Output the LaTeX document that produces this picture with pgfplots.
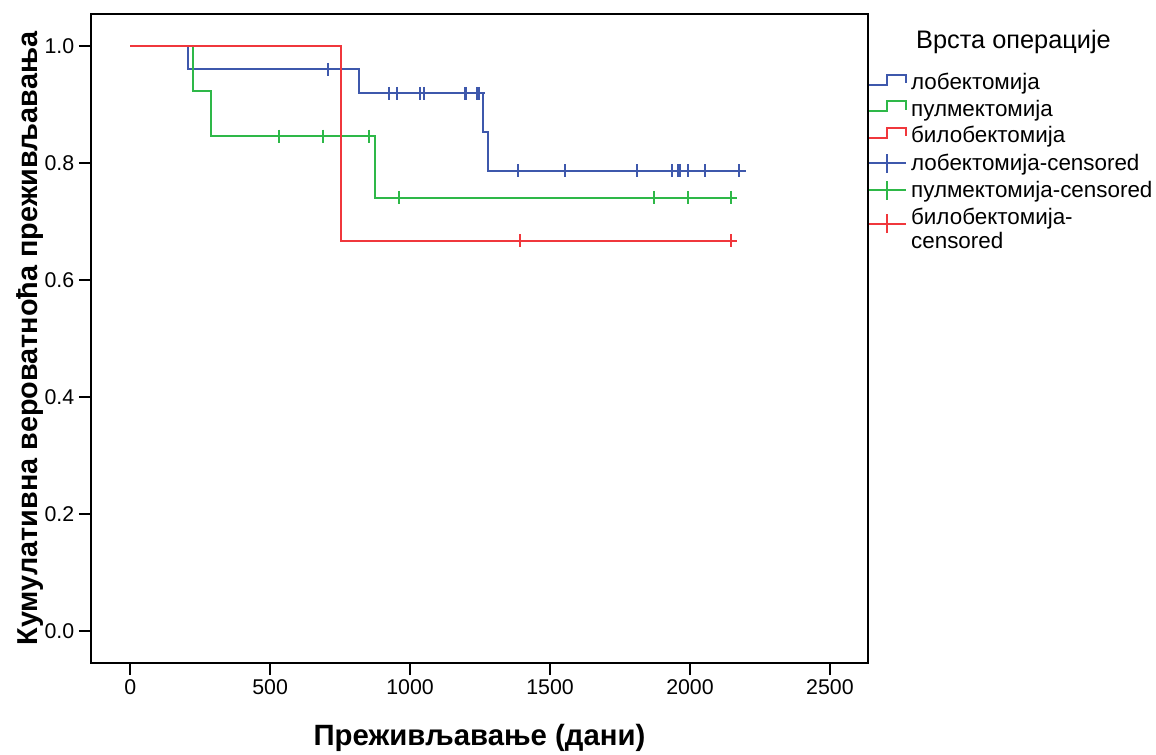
\documentclass[border=0pt]{standalone}
\usepackage{pgfplots}
\pgfplotsset{compat=1.18}
\usepackage{fontspec}
\setmainfont{Liberation Sans}

\definecolor{kmblue}{RGB}{62,88,172}
\definecolor{kmgreen}{RGB}{46,184,72}
\definecolor{kmred}{RGB}{240,55,60}

\pgfplotsset{
  steplegend/.style={legend image code/.code={
    \draw[##1, line width=1.4pt] (0pt,0pt) -- (13.5pt,0pt) -- (13.5pt,7.5pt)
      -- (27.75pt,7.5pt) -- (27.75pt,1.3pt);}},
  censlegend/.style={legend image code/.code={
    \draw[##1, line width=1.4pt] (0pt,1.7pt) -- (27.75pt,1.7pt)
      (13.5pt,-5.4pt) -- (13.5pt,8.8pt);}},
  censlegendlow/.style={legend image code/.code={
    \draw[##1, line width=1.4pt] (0pt,-3.3pt) -- (27.75pt,-3.3pt)
      (13.5pt,-10.4pt) -- (13.5pt,3.8pt);}},
}

\begin{document}
\begin{tikzpicture}
\begin{axis}[
  name=ax,
  scale only axis, width=582.75pt, height=486.75pt,
  xmin=-140, xmax=2636, ymin=-0.0547, ymax=1.0547,
  xtick={0,500,1000,1500,2000,2500},
  ytick={0,0.2,0.4,0.6,0.8,1.0},
  /pgf/number format/assume math mode=true,
  xticklabel style={/pgf/number format/1000 sep={}},
  yticklabel style={/pgf/number format/fixed, /pgf/number format/fixed zerofill,
                    /pgf/number format/precision=1},
  tick label style={font=\fontsize{16}{19}\selectfont},
  tick pos=left, tick align=outside, major tick length=9pt,
  tick style={line width=1.5pt, black},
  axis line style={line width=1.5pt},
  xlabel={Преживљавање (дани)},
  ylabel={Кумулативна вероватноћа преживљавања},
  xlabel style={font=\bfseries\fontsize{22}{26}\selectfont,
                at={(axis description cs:0.5,-0.1156)}, anchor=center},
  ylabel style={font=\bfseries\fontsize{21.6}{26}\selectfont,
                at={(axis description cs:-0.0785,0.5)}, anchor=center},
  legend cell align=left,
  legend style={at={(axis description cs:1,0.910)}, anchor=north west,
                draw=none, fill=none, inner sep=0pt, column sep=3pt,
                row sep=2pt,
                font=\fontsize{16.8}{18.5}\selectfont,
                nodes={inner sep=0pt, text height=12.5pt, text depth=5.5pt}},
]
% survival steps
\addplot[steplegend, const plot, kmblue, line width=1.5pt] coordinates {
  (0,1) (205,0.96) (818,0.919) (1262,0.853) (1277,0.787) (2176,0.787)};
\addplot[steplegend, const plot, kmgreen, line width=1.5pt] coordinates {
  (0,1) (224,0.923) (288,0.846) (875,0.741) (2146,0.741)};
\addplot[steplegend, const plot, kmred, line width=1.5pt] coordinates {
  (0,1) (754,0.667) (2146,0.667)};
% censored
\addplot[censlegend, only marks, mark=+, mark size=4.9pt, kmblue,
         mark options={line width=1.5pt}] coordinates {
  (706,0.96)
  (925,0.919) (952,0.919) (1036,0.919) (1048,0.919) (1197,0.919) (1201,0.919)
  (1238,0.919) (1246,0.919)
  (1385,0.787) (1552,0.787) (1812,0.787) (1934,0.787) (1958,0.787)
  (1964,0.787) (1994,0.787) (2054,0.787) (2176,0.787)};
\addplot[censlegend, only marks, mark=+, mark size=4.9pt, kmgreen,
         mark options={line width=1.5pt}] coordinates {
  (533,0.846) (688,0.846) (852,0.846)
  (961,0.741) (1873,0.741) (1994,0.741) (2146,0.741)};
\addplot[censlegendlow, only marks, mark=+, mark size=4.9pt, kmred,
         mark options={line width=1.5pt}] coordinates {
  (1393,0.667) (2146,0.667)};
\legend{лобектомија, пулмектомија, билобектомија, лобектомија-censored,
        пулмектомија-censored,
        {\begin{tabular}[t]{@{}l@{}}билобектомија-\\censored\end{tabular}}}
\end{axis}
\node[font=\fontsize{19}{22}\selectfont, anchor=center]
  at ([xshift=109.1pt, yshift=-21pt]ax.north east) {Врста операције};
\pgfresetboundingbox
\path[use as bounding box] ([xshift=-68.25pt, yshift=-68.25pt]ax.south west)
  rectangle ([xshift=216pt, yshift=10.5pt]ax.north east);
\end{tikzpicture}
\end{document}
